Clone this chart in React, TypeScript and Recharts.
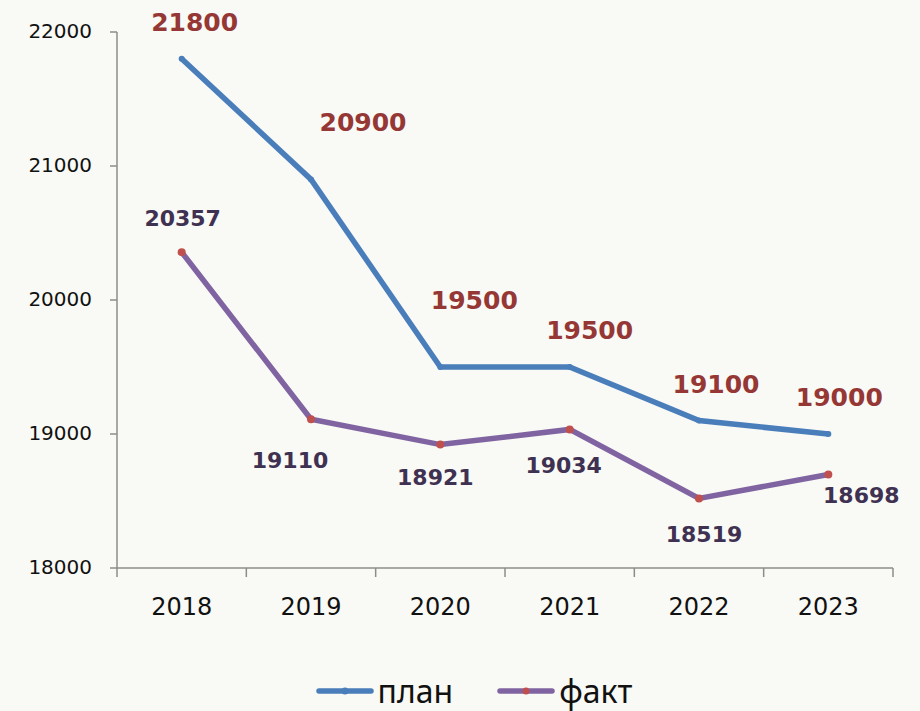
import { LineChart, Line, XAxis, YAxis, Legend, LabelList } from 'recharts';

const years = ['2018', '2019', '2020', '2021', '2022', '2023'];
const plan = [21800, 20900, 19500, 19500, 19100, 19000];
const fact = [20357, 19110, 18921, 19034, 18519, 18698];
const yTicks = [18000, 19000, 20000, 21000, 22000];

const data = years.map((y, i) => ({ year: y, plan: plan[i], fact: fact[i] }));

const PLOT_LEFT = 117;
const PLOT_RIGHT = 893;
const PLOT_BOTTOM = 568;
const HALF = (PLOT_RIGHT - PLOT_LEFT) / 12;
const AXIS = '#8c8c8c';
const FONT = '"DejaVu Sans", Verdana, sans-serif';

// label placement (text centre relative to the point), tuned by eye
const planOffsets = [[13, -37], [52, -57], [34, -67], [20, -37], [17, -37], [11, -37]];
const factOffsets = [[1, -34], [-21, 41], [-5, 32], [-6, 36], [5, 36], [33, 21]];

const makeLabel = (offsets: number[][], size: number, color: string) => (props: any) => {
  const { x, y, value, index } = props;
  const [dx, dy] = offsets[index];
  return (
    <text x={x + dx} y={y + dy} dy="0.36em" textAnchor="middle" fontFamily={FONT}
      fontWeight="bold" fontSize={size} fill={color}>
      {value}
    </text>
  );
};

const XTick = (props: any) => {
  const { x, payload, index } = props;
  return (
    <g>
      <line x1={x - HALF} x2={x - HALF} y1={PLOT_BOTTOM} y2={PLOT_BOTTOM + 9} stroke={AXIS} strokeWidth={1.5} />
      {index === years.length - 1 && (
        <line x1={x + HALF} x2={x + HALF} y1={PLOT_BOTTOM} y2={PLOT_BOTTOM + 9} stroke={AXIS} strokeWidth={1.5} />
      )}
      <text x={x} y={PLOT_BOTTOM + 47} textAnchor="middle" fontFamily={FONT} fontSize={24} fill="#111">
        {payload.value}
      </text>
    </g>
  );
};

const YTick = (props: any) => {
  const { x, y, payload } = props;
  return (
    <text x={x} y={y} dy="0.3em" textAnchor="end" fontFamily={FONT} fontSize={20} fill="#111">
      {payload.value}
    </text>
  );
};

const LegendIcon = ({ line, dot }: { line: string; dot: string }) => (
  <svg width={58} height={12} style={{ marginRight: 4 }}>
    <line x1={3} x2={55} y1={6} y2={6} stroke={line} strokeWidth={5.5} strokeLinecap="round" />
    <circle cx={29} cy={6} r={3.5} fill={dot} />
  </svg>
);

const renderLegend = () => (
  <div style={{ display: 'flex', justifyContent: 'center', alignItems: 'center', paddingRight: 2,
    fontFamily: '"Noto Sans", "Open Sans", sans-serif', fontSize: 32, color: '#111', lineHeight: '40px' }}>
    <div style={{ display: 'flex', alignItems: 'center', marginRight: 44 }}>
      <LegendIcon line="#4a7ebb" dot="#4a7ebb" />
      <span>план</span>
    </div>
    <div style={{ display: 'flex', alignItems: 'center' }}>
      <LegendIcon line="#8064a2" dot="#c0504d" />
      <span>факт</span>
    </div>
  </div>
);

export default function App() {
  return (
    <div style={{ position: 'absolute', left: 0, top: 0, width: 920, height: 711, background: '#f9f9f5' }}>
      <LineChart width={920} height={711} data={data}
        margin={{ top: 32, right: 920 - PLOT_RIGHT, left: 57, bottom: 0 }}>
        <XAxis dataKey="year" height={103} padding={{ left: HALF, right: HALF }}
          axisLine={{ stroke: AXIS, strokeWidth: 1.5 }} tickLine={false} tick={<XTick />} interval={0} />
        <YAxis width={60} domain={[18000, 22000]} ticks={yTicks} allowDataOverflow
          axisLine={{ stroke: AXIS, strokeWidth: 1.5 }} tickLine={{ stroke: AXIS, strokeWidth: 1.5 }}
          tickSize={7} tickMargin={18} tick={<YTick />} />
        <Legend verticalAlign="bottom" height={40} content={renderLegend} />
        <Line type="linear" dataKey="plan" name="план" stroke="#4a7ebb" strokeWidth={5.5}
          dot={{ r: 3, fill: '#4a7ebb', stroke: 'none' }} activeDot={false} isAnimationActive={false}>
          <LabelList dataKey="plan" content={makeLabel(planOffsets, 25, '#953735')} />
        </Line>
        <Line type="linear" dataKey="fact" name="факт" stroke="#8064a2" strokeWidth={5.5}
          dot={{ r: 4, fill: '#c0504d', stroke: 'none' }} activeDot={false} isAnimationActive={false}>
          <LabelList dataKey="fact" content={makeLabel(factOffsets, 22, '#3f3151')} />
        </Line>
      </LineChart>
    </div>
  );
}
